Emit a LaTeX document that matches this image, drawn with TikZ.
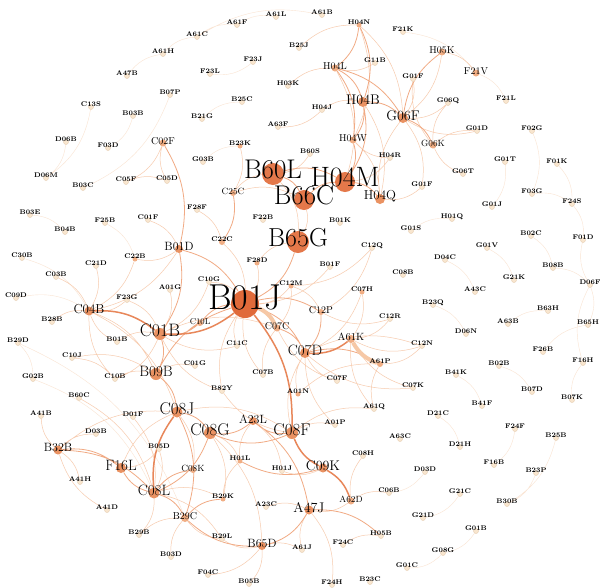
\documentclass[tikz,border=0pt]{standalone}
\usetikzlibrary{backgrounds}

\definecolor{nodeA}{HTML}{E06A3A}
\definecolor{nodeB}{HTML}{E4784A}
\definecolor{nodeC}{HTML}{EA9262}
\definecolor{nodeD}{HTML}{F1AE84}
\definecolor{nodeE}{HTML}{F8E6CF}
\definecolor{nodeEd}{HTML}{E6CDB0}
\definecolor{edgeA}{HTML}{FAE4D2}
\definecolor{edgeB}{HTML}{F7CBAE}
\definecolor{edgeC}{HTML}{F1AA84}
\definecolor{edgeD}{HTML}{E8875A}
\definecolor{edgeE}{HTML}{F6C8A6}

\begin{document}
\begin{tikzpicture}[x=1pt,y=-1pt,
  tn/.style={circle,inner sep=0pt,minimum size=5pt,fill=nodeE,draw=nodeEd,line width=.4pt},
  on/.style={circle,inner sep=0pt,minimum size=#1,fill=nodeD},
  mn/.style={circle,inner sep=0pt,minimum size=#1,fill=nodeC},
  bn/.style={circle,inner sep=0pt,minimum size=#1,fill=nodeB},
  lt/.style={font=\fontsize{6.8}{7}\selectfont\bfseries,inner sep=0pt,yshift=2.5pt},
  ls/.style={font=\fontsize{#1}{#1}\selectfont,inner sep=0pt,yshift={0.2*#1}},
  lb/.style={font=\fontsize{#1}{#1}\selectfont,inner sep=0pt,yshift={0.18*#1}},
  e0/.style={draw=edgeA,line width=.4pt,bend left=22},
  e1/.style={draw=edgeB,line width=.5pt,bend left=22},
  e2/.style={draw=edgeC,line width=.8pt,bend left=22},
  e3/.style={draw=edgeD,line width=1.5pt,bend left=20},
  e4/.style={draw=edgeE,line width=4pt,bend left=20}]

\useasboundingbox (0,0) rectangle (600,587);

% grosse Knoten
\node[circle,inner sep=0pt,minimum size=28pt,fill=nodeA,label={[lb=36]center:B01J}] (B01J) at (245,304) {};
\node[bn=22pt,label={[lb=27]center:B60L}] (B60L) at (273,174) {};
\node[bn=20pt,label={[lb=28]center:H04M}] (H04M) at (345,182) {};
\node[bn=20pt,label={[lb=27]center:B66C}] (B66C) at (304,200) {};
\node[bn=22pt,label={[lb=26]center:B65G}] (B65G) at (298,242) {};

% mittlere Knoten
\node[mn=12pt,label={[lb=18]center:C01B}] (C01B) at (160,334) {};
\node[mn=12pt,label={[lb=15]center:B09B}] (B09B) at (156,374) {};
\node[mn=12pt,label={[lb=17]center:C08G}] (C08G) at (210,433) {};
\node[mn=12pt,label={[lb=17]center:C08F}] (C08F) at (292,433) {};
\node[mn=11pt,label={[lb=17]center:C08J}] (C08J) at (177,412) {};
\node[mn=11pt,label={[lb=15]center:C08L}] (C08L) at (154,493) {};
\node[mn=10pt,label={[lb=15]center:C07D}] (C07D) at (305,353) {};
\node[mn=10pt,label={[lb=15]center:F16L}] (F16L) at (121,468) {};
\node[mn=10pt,label={[lb=13]center:H04Q}] (H04Q) at (380,199) {};
\node[mn=10pt,label={[lb=14]center:G06F}] (G06F) at (403,118) {};
\node[mn=10pt,label={[lb=14]center:H04B}] (H04B) at (363,102) {};
\node[mn=9pt,label={[lb=13]center:C04B}] (C04B) at (89,311) {};
\node[mn=9pt,label={[lb=14]center:C09K}] (C09K) at (323,468) {};
\node[mn=9pt,label={[lb=14]center:A47J}] (A47J) at (309,510) {};
\node[mn=9pt,label={[lb=12]center:B32B}] (B32B) at (58,450) {};
\node[mn=8pt,label={[lb=12]center:A23L}] (A23L) at (253,421) {};
\node[mn=8pt,label={[lb=12]center:B65D}] (B65D) at (262,546) {};
\node[mn=8pt,label={[lb=12]center:B01D}] (B01D) at (179,249) {};

% kleine Knoten
\node[on=8pt,label={[ls=10.5]center:A61K}] (A61K) at (351,339) {};
\node[on=8pt,label={[ls=10]center:B29C}] (B29C) at (185,518) {};
\node[on=7pt,label={[ls=10]center:H04L}] (H04L) at (335,68) {};
\node[on=7pt,label={[ls=10]center:H04W}] (H04W) at (353,140) {};
\node[on=7pt,label={[ls=10]center:H05K}] (H05K) at (442,52) {};
\node[on=7pt,label={[ls=10]center:F21V}] (F21V) at (476,73) {};
\node[on=7pt,label={[ls=9]center:G06K}] (G06K) at (433,145) {};
\node[on=7pt,label={[ls=10]center:C07C}] (C07C) at (277,328) {};
\node[on=6pt,label={[ls=10]center:C12P}] (C12P) at (321,312) {};
\node[on=7pt,label={[ls=9]center:A62D}] (A62D) at (351,501) {};
\node[on=7pt,label={[ls=10]center:C02F}] (C02F) at (163,143) {};
\node[on=6pt,label={[ls=9]center:C25C}] (C25C) at (233,193) {};
\node[on=6pt,label={[ls=9]center:C08K}] (C08K) at (193,470) {};
\node[on=6pt,label={[lt]center:C22C}] (C22C) at (222,242) {};
\node[on=6pt,label={[ls=8.5]center:C10L}] (C10L) at (200,323) {};
\node[on=6pt,label={[lt]center:A61P}] (A61P) at (380,364) {};
\node[on=5pt,label={[lt]center:C12M}] (C12M) at (291,286) {};
\node[on=5pt,label={[lt]center:B29K}] (B29K) at (223,499) {};
\node[on=5pt,label={[lt]center:H01L}] (H01L) at (240,461) {};
\node[on=5pt,label={[lt]center:H04N}] (H04N) at (359,25) {};
\node[on=5pt,label={[lt]center:C22B}] (C22B) at (135,259) {};
\node[on=5pt,label={[lt]center:F28D}] (F28D) at (257,263) {};
\node[on=5pt,label={[lt]center:C07H}] (C07H) at (362,292) {};
\node[on=5pt,label={[lt]center:A01N}] (A01N) at (298,394) {};
\node[on=5pt,label={[lt]center:B23K}] (B23K) at (240,146) {};

% sehr kleine Knoten, oben
\node[tn,label={[lt]center:A61C}] (A61C) at (197,37) {};
\node[tn,label={[lt]center:A61H}] (A61H) at (163,54) {};
\node[tn,label={[lt]center:A47B}] (A47B) at (127,76) {};
\node[tn,label={[lt]center:B07P}] (B07P) at (170,95) {};
\node[tn,label={[lt]center:C13S}] (C13S) at (91,107) {};
\node[tn,label={[lt]center:B03B}] (B03B) at (133,116) {};
\node[tn,label={[lt]center:D06B}] (D06B) at (66,142) {};
\node[tn,label={[lt]center:F03D}] (F03D) at (108,148) {};
\node[tn,label={[lt]center:D06M}] (D06M) at (46,178) {};
\node[tn,label={[lt]center:B03C}] (B03C) at (83,188) {};
\node[tn,label={[lt]center:C05F}] (C05F) at (126,182) {};
\node[tn,label={[lt]center:C05D}] (C05D) at (167,181) {};
\node[tn,label={[lt]center:A61F}] (A61F) at (237,25) {};
\node[tn,label={[lt]center:A61L}] (A61L) at (276,17) {};
\node[tn,label={[lt]center:A61B}] (A61B) at (322,15) {};
\node[tn,label={[lt]center:B25J}] (B25J) at (299,48) {};
\node[tn,label={[lt]center:F23J}] (F23J) at (253,62) {};
\node[tn,label={[lt]center:F23L}] (F23L) at (210,74) {};
\node[tn,label={[lt]center:G11B}] (G11B) at (375,63) {};
\node[tn,label={[lt]center:H03K}] (H03K) at (288,86) {};
\node[tn,label={[lt]center:B25C}] (B25C) at (242,102) {};
\node[tn,label={[lt]center:B21G}] (B21G) at (202,119) {};
\node[tn,label={[lt]center:H04J}] (H04J) at (322,110) {};
\node[tn,label={[lt]center:A63F}] (A63F) at (278,127) {};
\node[tn,label={[lt]center:B60S}] (B60S) at (310,154) {};
\node[tn,label={[lt]center:H04R}] (H04R) at (390,158) {};
\node[tn,label={[lt]center:G03B}] (G03B) at (203,162) {};
\node[tn,label={[lt]center:F21K}] (F21K) at (403,32) {};
\node[tn,label={[lt]center:G01F}] (G01Fa) at (413,79) {};
\node[tn,label={[lt]center:F21L}] (F21L) at (506,101) {};
\node[tn,label={[lt]center:G06Q}] (G06Q) at (448,103) {};
\node[tn,label={[lt]center:G01D}] (G01D) at (477,131) {};
\node[tn,label={[lt]center:F02G}] (F02G) at (532,131) {};
\node[tn,label={[lt]center:G01T}] (G01T) at (505,162) {};
\node[tn,label={[lt]center:F01K}] (F01K) at (557,164) {};
\node[tn,label={[lt]center:G06T}] (G06T) at (463,174) {};
\node[tn,label={[lt]center:F03G}] (F03G) at (532,194) {};
\node[tn,label={[lt]center:G01F}] (G01Fb) at (422,187) {};

% sehr kleine Knoten, Mitte links
\node[tn,label={[lt]center:B03E}] (B03E) at (30,215) {};
\node[tn,label={[lt]center:B04B}] (B04B) at (65,232) {};
\node[tn,label={[lt]center:F25B}] (F25B) at (105,223) {};
\node[tn,label={[lt]center:C01F}] (C01F) at (148,220) {};
\node[tn,label={[lt]center:F28F}] (F28F) at (197,210) {};
\node[tn,label={[lt]center:C30B}] (C30B) at (22,258) {};
\node[tn,label={[lt]center:C21D}] (C21D) at (96,266) {};
\node[tn,label={[lt]center:C03B}] (C03B) at (56,277) {};
\node[tn,label={[lt]center:A01G}] (A01G) at (170,290) {};
\node[tn,label={[lt]center:C09D}] (C09D) at (16,298) {};
\node[tn,label={[lt]center:F23G}] (F23G) at (127,300) {};
\node[tn,label={[lt]center:B28B}] (B28B) at (52,322) {};
\node[tn,label={[lt]center:B01B}] (B01B) at (117,342) {};
\node[tn,label={[lt]center:B29D}] (B29D) at (18,343) {};
\node[tn,label={[lt]center:C10J}] (C10J) at (72,358) {};
\node[tn,label={[lt]center:C10B}] (C10B) at (115,379) {};
\node[tn,label={[lt]center:G02B}] (G02B) at (33,379) {};
\node[tn,label={[lt]center:C01G}] (C01G) at (195,366) {};

% sehr kleine Knoten, Mitte
\node[tn,label={[lt]center:F22B}] (F22B) at (263,220) {};
\node[tn,label={[lt]center:B01K}] (B01K) at (340,223) {};
\node[tn,label={[lt]center:C12Q}] (C12Q) at (372,248) {};
\node[tn,label={[lt]center:B01F}] (B01F) at (330,267) {};
\node[tn,label={[lt]center:C10G}] (C10G) at (209,282) {};
\node[tn,label={[lt]center:C12R}] (C12R) at (390,319) {};
\node[tn,label={[lt]center:C11C}] (C11C) at (237,346) {};
\node[tn,label={[lt]center:C07B}] (C07B) at (263,375) {};
\node[tn,label={[lt]center:C07F}] (C07F) at (337,381) {};
\node[tn,label={[lt]center:B82Y}] (B82Y) at (222,391) {};

% sehr kleine Knoten, rechts
\node[tn,label={[lt]center:F24S}] (F24S) at (572,204) {};
\node[tn,label={[lt]center:G01J}] (G01J) at (492,207) {};
\node[tn,label={[lt]center:H01Q}] (H01Q) at (452,219) {};
\node[tn,label={[lt]center:G01S}] (G01S) at (411,231) {};
\node[tn,label={[lt]center:F01D}] (F01D) at (583,240) {};
\node[tn,label={[lt]center:B02C}] (B02C) at (531,236) {};
\node[tn,label={[lt]center:G01V}] (G01V) at (487,248) {};
\node[tn,label={[lt]center:D04C}] (D04C) at (445,260) {};
\node[tn,label={[lt]center:B08B}] (B08B) at (553,268) {};
\node[tn,label={[lt]center:C08B}] (C08B) at (403,275) {};
\node[tn,label={[lt]center:G21K}] (G21K) at (514,280) {};
\node[tn,label={[lt]center:D06F}] (D06F) at (590,285) {};
\node[tn,label={[lt]center:A43C}] (A43C) at (475,292) {};
\node[tn,label={[lt]center:B23Q}] (B23Q) at (433,305) {};
\node[tn,label={[lt]center:B63H}] (B63H) at (548,311) {};
\node[tn,label={[lt]center:A63B}] (A63B) at (508,324) {};
\node[tn,label={[lt]center:B65H}] (B65H) at (588,325) {};
\node[tn,label={[lt]center:D06N}] (D06N) at (466,334) {};
\node[tn,label={[lt]center:C12N}] (C12N) at (422,346) {};
\node[tn,label={[lt]center:F26B}] (F26B) at (543,352) {};
\node[tn,label={[lt]center:F16H}] (F16H) at (583,363) {};
\node[tn,label={[lt]center:B02B}] (B02B) at (499,366) {};
\node[tn,label={[lt]center:B41K}] (B41K) at (456,375) {};
\node[tn,label={[lt]center:C07K}] (C07K) at (413,388) {};
\node[tn,label={[lt]center:B07D}] (B07D) at (532,392) {};
\node[tn,label={[lt]center:B07K}] (B07K) at (572,400) {};
\node[tn,label={[lt]center:B41F}] (B41F) at (482,406) {};
\node[tn,label={[lt]center:D21C}] (D21C) at (438,416) {};
\node[tn,label={[lt]center:A63C}] (A63C) at (400,439) {};
\node[tn,label={[lt]center:F24F}] (F24F) at (515,429) {};
\node[tn,label={[lt]center:B25B}] (B25B) at (556,438) {};
\node[tn,label={[lt]center:D21H}] (D21H) at (460,447) {};
\node[tn,label={[lt]center:F16B}] (F16B) at (494,465) {};
\node[tn,label={[lt]center:D03D}] (D03D) at (425,472) {};
\node[tn,label={[lt]center:B23P}] (B23P) at (536,473) {};
\node[tn,label={[lt]center:G21C}] (G21C) at (460,494) {};
\node[tn,label={[lt]center:B30B}] (B30B) at (507,504) {};
\node[tn,label={[lt]center:G21D}] (G21D) at (423,518) {};
\node[tn,label={[lt]center:G01B}] (G01B) at (476,531) {};
\node[tn,label={[lt]center:G08G}] (G08G) at (443,553) {};
\node[tn,label={[lt]center:G01C}] (G01C) at (407,568) {};

% sehr kleine Knoten, unten
\node[tn,label={[lt]center:B60C}] (B60C) at (79,398) {};
\node[tn,label={[lt]center:A41B}] (A41B) at (41,416) {};
\node[tn,label={[lt]center:D01F}] (D01F) at (133,417) {};
\node[tn,label={[lt]center:D03B}] (D03B) at (96,434) {};
\node[tn,label={[lt]center:B05D}] (B05D) at (159,449) {};
\node[tn,label={[lt]center:A41H}] (A41H) at (80,482) {};
\node[tn,label={[lt]center:A41D}] (A41D) at (107,510) {};
\node[tn,label={[lt]center:B29B}] (B29B) at (139,535) {};
\node[tn,label={[lt]center:B03D}] (B03D) at (171,557) {};
\node[tn,label={[lt]center:A61Q}] (A61Q) at (374,409) {};
\node[tn,label={[lt]center:A01P}] (A01P) at (335,425) {};
\node[tn,label={[lt]center:C08H}] (C08H) at (363,456) {};
\node[tn,label={[lt]center:H01J}] (H01J) at (282,471) {};
\node[tn,label={[lt]center:A23C}] (A23C) at (266,507) {};
\node[tn,label={[lt]center:C06B}] (C06B) at (389,493) {};
\node[tn,label={[lt]center:B29L}] (B29L) at (222,539) {};
\node[tn,label={[lt]center:H05B}] (H05B) at (381,536) {};
\node[tn,label={[lt]center:F24C}] (F24C) at (343,545) {};
\node[tn,label={[lt]center:A61J}] (A61J) at (302,550) {};
\node[tn,label={[lt]center:F04C}] (F04C) at (208,575) {};
\node[tn,label={[lt]center:B05B}] (B05B) at (249,584) {};
\node[tn,label={[lt]center:F24H}] (F24H) at (332,585) {};
\node[tn,label={[lt]center:B23C}] (B23C) at (370,582) {};

% Kanten hinter den Knoten
\begin{pgfonlayer}{background}
\fill[white] (0,0) rectangle (600,587);

% blasse Kanten
\draw[e0] (A47B) to (A61H) (A61H) to (A61C) (A61C) to (A61F) (A61C) to (A61B)
  (A61F) to (A61L) (B07P) to (B03C) (B03B) to (F03D) (C13S) to (D06M)
  (D06B) to (D06M) (F23J) to (F23L) (B21G) to (B25C) (G03B) to (B23K)
  (B03E) to (B04B) (F25B) to (C22B) (C30B) to (C04B) (C09D) to (C04B)
  (B29D) to (G02B) (F02G) to (F03G) (F01K) to (F24S) (F03G) to (F24S)
  (F24S) to (F01D) (G01T) to (G01J) (G01S) to (H01Q) (G01V) to (G21K)
  (D04C) to (A43C) (B02C) to (B08B) (B08B) to (D06F) (D06F) to (F01D)
  (D06F) to (B65H) (F16H) to (D06F) (F26B) to (B65H) (A63B) to (B63H)
  (B23Q) to (D06N) (B02B) to (B07D) (B07K) to (F16H) (B41K) to (B41F)
  (D21C) to (D21H) (F24F) to (F16B) (B25B) to (B30B) (B23P) to (B30B)
  (G21C) to (G21D) (G01B) to (G08G) (G08G) to (G01C) (D03D) to (C06B)
  (F21V) to (F21L) (F21K) to (F21V) (B29D) to (B29C) (G02B) to (C08L);

% leichte Kanten
\draw[e1] (B25J) to (H04N) (H03K) to (H04L) (G11B) to (H04L) (H04J) to (A63F)
  (H04J) to (H04B) (H04N) to (G06F) (H04N) to (H04W) (H04R) to (H04W)
  (H04R) to (H04M) (H05K) to (F21V) (H05K) to (G06F) (G06Q) to (G06F)
  (G06K) to (G06Q) (G01D) to (G06F) (G06K) to (G01D) (G01Fa) to (G06F)
  (G06K) to (G01Fa) (G06T) to (G06K) (G01Fb) to (H04Q) (G06F) to (G01Fb)
  (H04L) to (H04M) (H04W) to (H04Q) (H04Q) to (G06F) (H04B) to (H04Q)
  (B60S) to (B60L) (B23K) to (C25C) (C25C) to (B60L) (C25C) to (B66C)
  (B66C) to (B65G) (B60L) to (B65G) (F28F) to (C22C) (F28D) to (B65G)
  (C02F) to (C05F) (C05D) to (C02F) (C05F) to (C05D) (C01F) to (B01D)
  (B01D) to (C22B) (C22B) to (C04B) (C21D) to (C04B) (C03B) to (C04B)
  (B28B) to (C04B) (F23G) to (C04B) (F23G) to (C01B) (A01G) to (C01B)
  (B01B) to (C01B) (B01B) to (C04B) (C10J) to (C10B) (C10J) to (B09B)
  (C10B) to (B09B) (C10B) to (C04B) (C01B) to (C10B) (C04B) to (B09B)
  (B01D) to (C04B) (C04B) to (C08J) (B09B) to (C01G) (C22C) to (B01J)
  (C10G) to (B01J) (F28D) to (B01J) (C12M) to (B01J) (C12M) to (C12P)
  (C12M) to (C07C) (C12Q) to (C12M) (C12Q) to (C12P) (B01F) to (B01J)
  (C07H) to (C07D) (C07H) to (A61K) (C11C) to (B01J) (C11C) to (C01B)
  (C07B) to (C07C) (C07B) to (B01J) (C07F) to (C07D) (C07F) to (C07C)
  (B82Y) to (C01B) (B82Y) to (B01J) (A01N) to (C07D) (A01N) to (A61P)
  (A61Q) to (A61K) (A61Q) to (A61P) (A01P) to (C07D) (C12R) to (C12P)
  (C12R) to (A61K) (C12N) to (A61K) (C12N) to (A61P) (C07K) to (C07D)
  (C07K) to (A61K) (C07D) to (C12N) (C10G) to (C01B) (C01B) to (C07C)
  (C08J) to (C08K) (F16L) to (C08J) (C08G) to (B29K) (C08G) to (H01L)
  (C08G) to (B65D) (C08L) to (B29B) (C08L) to (B29K) (C08L) to (B29L)
  (D01F) to (C08L) (B60C) to (C08L) (B05D) to (C08L) (B05D) to (F16L)
  (B32B) to (A41B) (B32B) to (D03B) (B32B) to (A41H) (A41D) to (B32B)
  (B32B) to (C08J) (B29B) to (B29C) (B03D) to (B29C) (B29L) to (B29C)
  (B29K) to (H01L) (A23L) to (H01J) (H01L) to (A23L) (C09K) to (H01J)
  (C08F) to (A61Q) (C08F) to (A01P) (C08F) to (C07D) (C08F) to (B82Y)
  (A62D) to (C08H) (A62D) to (C06B) (A62D) to (A47J) (A47J) to (F24H)
  (A61J) to (A47J) (A23C) to (A47J) (F24C) to (H05B) (B65D) to (F04C)
  (B65D) to (B05B) (B65D) to (B29L) (B65D) to (A61J) (C08J) to (C08F);

% mittlere Kanten
\draw[e2] (B01J) to (C07D) (B01J) to (C12P) (B09B) to (B01J) (B65G) to (B01J)
  (B01D) to (B01J) (C10L) to (B01J) (C01B) to (B09B) (C10L) to (C01B)
  (B01D) to (C01B) (C07C) to (C07D) (C07D) to (A61P) (C12P) to (C07D)
  (C08J) to (C08G) (B09B) to (C08J) (C08G) to (C08L) (C08F) to (C08G)
  (C08L) to (C08K) (C08L) to (B29C) (C08L) to (F16L) (B32B) to (C08L)
  (C08J) to (B29C) (C08F) to (A23L) (A23L) to (C08G) (A23L) to (A47J)
  (A47J) to (B65D) (B65D) to (B29C) (A47J) to (H05B) (B29C) to (B29K)
  (C09K) to (H01L) (B32B) to (F16L) (C02F) to (B01D) (C25C) to (C22C)
  (H04M) to (H04Q) (B66C) to (H04M) (B60L) to (B66C) (B60L) to (H04M)
  (H04B) to (H04M) (H04L) to (H04B) (H04B) to (G06F) (G06F) to (G06K)
  (H04W) to (H04M) (H04B) to (H04W) (H04L) to (H04W) (H04L) to (G06F)
  (H04N) to (H04B) (H04N) to (H04L) (G06F) to (H05K);

% starke Kanten
\draw[e3] (B01J) to (C01B) (B01J) to (C08F) (A61K) to (C07D) (C08L) to (C08J)
  (C04B) to (C01B) (C09K) to (C08F) (C09K) to (A62D);

% breite Kanten
\draw[e4] (B01J) to (C07C) (A61P) to (A61K);
\end{pgfonlayer}

\end{tikzpicture}
\end{document}
